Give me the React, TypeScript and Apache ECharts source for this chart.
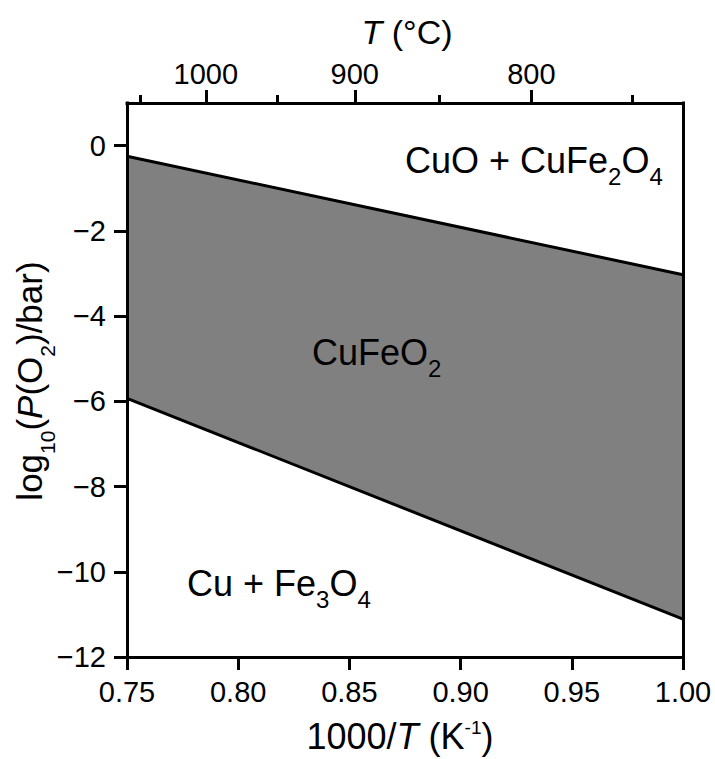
import React, { useEffect, useRef } from 'react';
import * as echarts from 'echarts';

// 1000/T (K^-1) at the two ends of the plotted range
const invT = [0.75, 1.0];
// Boundary CuO + CuFe2O4 / CuFeO2
const upperLogP = [-0.25, -3.03];
// Boundary CuFeO2 / Cu + Fe3O4
const lowerLogP = [-5.93, -11.11];

const xTicks = [0.75, 0.8, 0.85, 0.9, 0.95, 1.0];
const yTicks = [0, -2, -4, -6, -8, -10, -12];
const topMajorC = [1000, 900, 800];
const topMinorC = [1050, 950, 850, 750];

const regionUpper = 'CuO + CuFe{s|2}O{s|4}';
const regionMiddle = 'CuFeO{s|2}';
const regionLower = 'Cu + Fe{s|3}O{s|4}';

const FONT = "'Liberation Sans', Arial, Helvetica, sans-serif";

const cToInv = (c: number) => 1000 / (c + 273.15);

export default function App() {
  const ref = useRef<HTMLDivElement>(null);

  useEffect(() => {
    document.body.style.margin = '0';
    if (!ref.current) return;
    const chart = echarts.init(ref.current, undefined, { renderer: 'svg' });

    const axisLineStyle = { color: '#000', width: 3, cap: 'square' as const };
    const tickStyle = { color: '#000', width: 3 };
    const labelBase = { color: '#000', fontSize: 29, fontFamily: FONT };

    const subRich = (size: number) => ({
      s: { fontSize: size, fontFamily: FONT, fill: '#000', verticalAlign: 'bottom', lineHeight: size },
    });

    const option: any = {
      animation: false,
      backgroundColor: '#fff',
      grid: { left: 127, top: 103, right: 32, bottom: 102, show: false },
      xAxis: [
        {
          type: 'value',
          position: 'bottom',
          min: 0.75,
          max: 1.0,
          interval: 0.05,
          z: 10,
          splitLine: { show: false },
          axisLine: { show: true, onZero: false, lineStyle: axisLineStyle },
          axisTick: { show: true, length: 13, lineStyle: tickStyle, customValues: xTicks },
          axisLabel: {
            ...labelBase,
            margin: 20,
            customValues: xTicks,
            formatter: (v: number) => v.toFixed(2),
          },
        },
        {
          type: 'value',
          position: 'top',
          min: 0.75,
          max: 1.0,
          z: 10,
          splitLine: { show: false },
          axisLine: { show: true, onZero: false, lineStyle: axisLineStyle },
          axisTick: { show: true, length: 13, lineStyle: tickStyle, customValues: topMajorC.map(cToInv) },
          axisLabel: {
            ...labelBase,
            margin: 15,
            customValues: topMajorC.map(cToInv),
            formatter: (v: number) => String(Math.round(1000 / v - 273.15)),
          },
        },
        {
          type: 'value',
          position: 'top',
          min: 0.75,
          max: 1.0,
          z: 10,
          splitLine: { show: false },
          axisLine: { show: false, onZero: false },
          axisTick: { show: true, length: 8, lineStyle: tickStyle, customValues: topMinorC.map(cToInv) },
          axisLabel: { show: false },
        },
      ],
      yAxis: [
        {
          type: 'value',
          position: 'left',
          min: -12,
          max: 1,
          z: 10,
          splitLine: { show: false },
          axisLine: { show: true, onZero: false, lineStyle: axisLineStyle },
          axisTick: { show: true, length: 13, lineStyle: tickStyle, customValues: yTicks },
          axisLabel: {
            ...labelBase,
            margin: 21,
            customValues: yTicks,
            formatter: (v: number) => (v === 0 ? '0' : '\u2212' + Math.abs(v)),
          },
        },
        {
          type: 'value',
          position: 'right',
          min: -12,
          max: 1,
          z: 10,
          splitLine: { show: false },
          axisLine: { show: true, onZero: false, lineStyle: axisLineStyle },
          axisTick: { show: false },
          axisLabel: { show: false },
        },
      ],
      series: [
        {
          type: 'custom',
          name: 'CuFeO2',
          xAxisIndex: 0,
          yAxisIndex: 0,
          z: 1,
          data: invT.map((x, i) => [x, lowerLogP[i], upperLogP[i]]),
          renderItem: (params: any, api: any) => {
            if (params.dataIndex !== 0) return null;
            const pts: number[][] = [];
            for (let i = 0; i < invT.length; i++) pts.push(api.coord([invT[i], upperLogP[i]]));
            for (let i = invT.length - 1; i >= 0; i--) pts.push(api.coord([invT[i], lowerLogP[i]]));
            return {
              type: 'polygon',
              shape: { points: pts },
              style: { fill: '#808080', stroke: 'none' },
            };
          },
        },
        {
          type: 'line',
          name: 'upper',
          xAxisIndex: 0,
          yAxisIndex: 0,
          symbol: 'none',
          z: 3,
          lineStyle: { color: '#000', width: 3 },
          data: invT.map((x, i) => [x, upperLogP[i]]),
        },
        {
          type: 'line',
          name: 'lower',
          xAxisIndex: 0,
          yAxisIndex: 0,
          symbol: 'none',
          z: 3,
          lineStyle: { color: '#000', width: 3 },
          data: invT.map((x, i) => [x, lowerLogP[i]]),
        },
      ],
      graphic: [
        {
          type: 'text',
          z: 100,
          x: 407,
          y: 32,
          style: {
            text: '{i|T} (°C)',
            fontSize: 34,
            fontFamily: FONT,
            fill: '#000',
            align: 'center',
            verticalAlign: 'middle',
            rich: { i: { fontSize: 34, fontFamily: FONT, fontStyle: 'italic', fill: '#000' } },
          },
        },
        {
          type: 'text',
          z: 100,
          x: 400,
          y: 736,
          style: {
            text: '1000/{i|T} (K{sup|-1})',
            fontSize: 36,
            fontFamily: FONT,
            fill: '#000',
            align: 'center',
            verticalAlign: 'middle',
            lineHeight: 36,
            rich: {
              i: { fontSize: 36, fontFamily: FONT, fontStyle: 'italic', fill: '#000', lineHeight: 36 },
              sup: { fontSize: 19, fontFamily: FONT, fill: '#000', verticalAlign: 'top', lineHeight: 19 },
            },
          },
        },
        {
          type: 'text',
          z: 100,
          x: 29.5,
          y: 381,
          rotation: Math.PI / 2,
          style: {
            text: 'log{s|10}({i|P}(O{s|2})/bar)',
            fontSize: 35,
            fontFamily: FONT,
            fill: '#000',
            align: 'center',
            verticalAlign: 'middle',
            lineHeight: 57,
            rich: {
              ...subRich(21),
              i: { fontSize: 35, fontFamily: FONT, fontStyle: 'italic', fill: '#000', lineHeight: 57 },
            },
          },
        },
        {
          type: 'text',
          z: 100,
          x: 405,
          y: 160,
          style: {
            text: regionUpper,
            fontSize: 36,
            fontFamily: FONT,
            fill: '#000',
            align: 'left',
            verticalAlign: 'middle',
            lineHeight: 56,
            rich: subRich(24),
          },
        },
        {
          type: 'text',
          z: 100,
          x: 312,
          y: 352,
          style: {
            text: regionMiddle,
            fontSize: 36,
            fontFamily: FONT,
            fill: '#000',
            align: 'left',
            verticalAlign: 'middle',
            lineHeight: 56,
            rich: subRich(24),
          },
        },
        {
          type: 'text',
          z: 100,
          x: 187,
          y: 583,
          style: {
            text: regionLower,
            fontSize: 36,
            fontFamily: FONT,
            fill: '#000',
            align: 'left',
            verticalAlign: 'middle',
            lineHeight: 56,
            rich: subRich(24),
          },
        },
      ],
    };

    chart.setOption(option);
    return () => chart.dispose();
  }, []);

  return <div ref={ref} style={{ width: 715, height: 759 }} />;
}
